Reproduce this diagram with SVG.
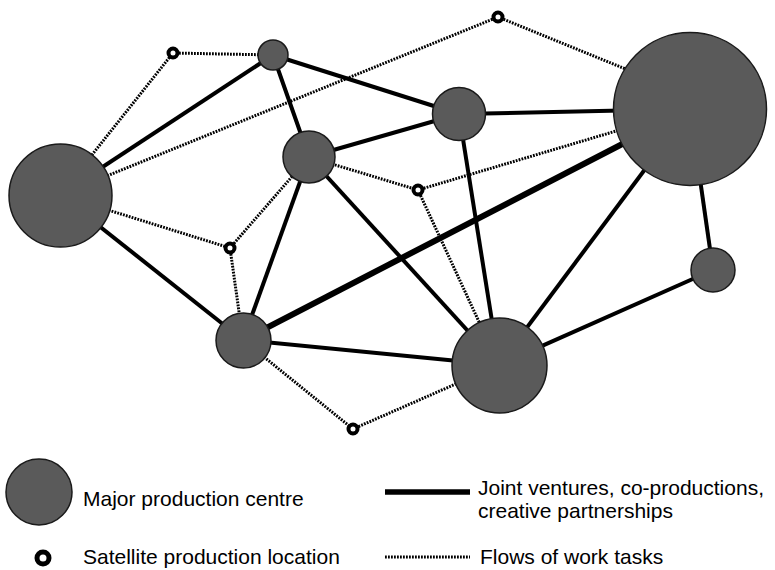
<svg xmlns="http://www.w3.org/2000/svg" width="775" height="570" viewBox="0 0 775 570">
<style>
.major{fill:#5a5a5a;stroke:#1a1a1a;stroke-width:1.5}
.sat{fill:#fff;stroke:#000;stroke-width:4}
.solid{stroke:#000;stroke-width:4;fill:none;stroke-linecap:butt}
.thick{stroke:#000;stroke-width:6;fill:none}
.dot{stroke:#000;stroke-width:3;stroke-dasharray:1.8 1.2;fill:none}
text{font-family:"Liberation Sans",Arial,Helvetica,sans-serif;font-size:21px;fill:#000}
</style>
<rect width="775" height="570" fill="#fff"/>
<g id="connectors">
<!-- dotted flows -->
<line class="dot" x1="60" y1="195" x2="173" y2="53"/>
<line class="dot" x1="173" y1="53" x2="273" y2="55"/>
<line class="dot" x1="60" y1="195" x2="498" y2="17"/>
<line class="dot" x1="498" y1="17" x2="628" y2="70"/>
<line class="dot" x1="60" y1="195" x2="230" y2="248"/>
<line class="dot" x1="230" y1="248" x2="309" y2="157"/>
<line class="dot" x1="230" y1="248" x2="243" y2="340"/>
<line class="dot" x1="309" y1="157" x2="418" y2="190"/>
<line class="dot" x1="418" y1="190" x2="690" y2="109"/>
<line class="dot" x1="418" y1="190" x2="499" y2="365"/>
<line class="dot" x1="243" y1="340" x2="353" y2="429"/>
<line class="dot" x1="353" y1="429" x2="499" y2="365"/>
<!-- solid partnerships -->
<line class="solid" x1="60" y1="195" x2="273" y2="55"/>
<line class="solid" x1="60" y1="195" x2="243" y2="340"/>
<line class="solid" x1="273" y1="55" x2="309" y2="157"/>
<line class="solid" x1="273" y1="55" x2="459" y2="114"/>
<line class="solid" x1="309" y1="157" x2="459" y2="114"/>
<line class="solid" x1="309" y1="157" x2="243" y2="340"/>
<line class="solid" x1="309" y1="157" x2="499" y2="365"/>
<line class="solid" x1="459" y1="114" x2="690" y2="109"/>
<line class="solid" x1="459" y1="114" x2="499" y2="365"/>
<line class="thick" x1="690" y1="109" x2="243" y2="340"/>
<line class="solid" x1="690" y1="109" x2="499" y2="365"/>
<line class="solid" x1="690" y1="109" x2="713" y2="270"/>
<line class="solid" x1="713" y1="270" x2="499" y2="365"/>
<line class="solid" x1="243" y1="340" x2="499" y2="365"/>
</g>
<g id="node-A"><circle class="major" cx="60.5" cy="195.5" r="51.5"/></g>
<g id="node-B"><circle class="major" cx="273" cy="55" r="15"/></g>
<g id="node-C"><circle class="major" cx="309" cy="157" r="26"/></g>
<g id="node-D"><circle class="major" cx="459" cy="114" r="26.5"/></g>
<g id="node-E"><circle class="major" cx="690" cy="109" r="76.5"/></g>
<g id="node-F"><circle class="major" cx="713" cy="270" r="22"/></g>
<g id="node-G"><circle class="major" cx="243.5" cy="340.5" r="27.5"/></g>
<g id="node-H"><circle class="major" cx="499.5" cy="365.5" r="47.5"/></g>
<g id="sat-1"><circle class="sat" cx="173" cy="53" r="4.5"/></g>
<g id="sat-2"><circle class="sat" cx="498" cy="17" r="4.5"/></g>
<g id="sat-3"><circle class="sat" cx="418" cy="190" r="4.5"/></g>
<g id="sat-4"><circle class="sat" cx="230" cy="248" r="4.5"/></g>
<g id="sat-5"><circle class="sat" cx="353" cy="429" r="4.5"/></g>
<g id="legend">
<circle class="major" cx="39" cy="492" r="33"/>
<text x="83" y="506">Major production centre</text>
<circle cx="43" cy="558" r="6" fill="#fff" stroke="#000" stroke-width="5"/>
<text x="83" y="564">Satellite production location</text>
<line x1="385" y1="492" x2="470" y2="492" stroke="#000" stroke-width="5.5"/>
<text x="478" y="495">Joint ventures, co-productions,</text>
<text x="478" y="518">creative partnerships</text>
<line class="dot" x1="385" y1="557" x2="470" y2="557"/>
<text x="480" y="564">Flows of work tasks</text>
</g>
</svg>
